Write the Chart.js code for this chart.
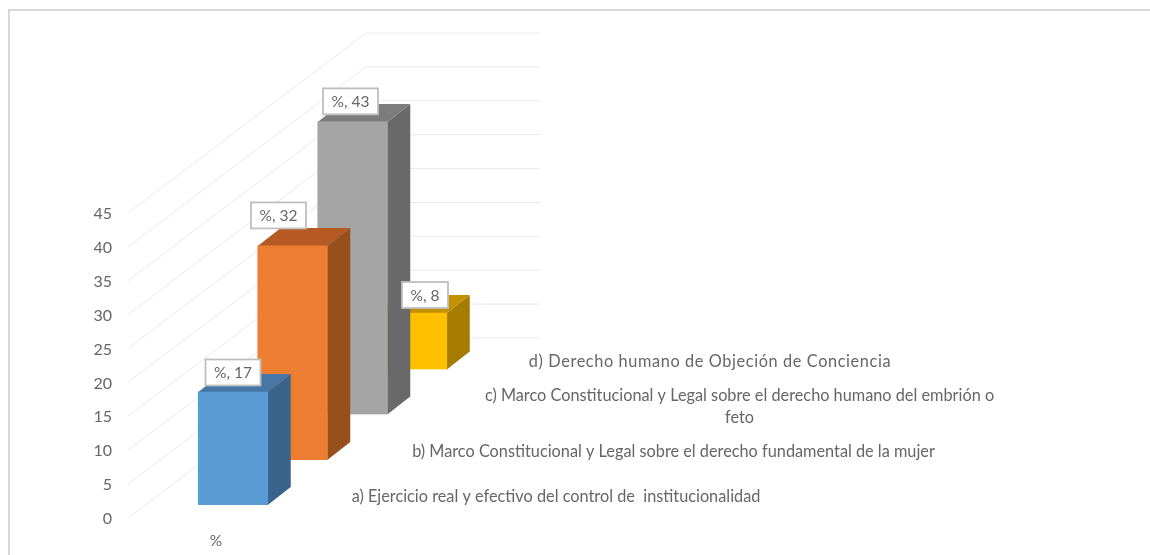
<!DOCTYPE html>
<html><head><meta charset="utf-8">
<style>html,body{margin:0;padding:0;background:#fff}canvas{display:block}</style>
<script src="https://cdn.jsdelivr.net/npm/chart.js@4/dist/chart.umd.min.js"></script>
</head><body><div style="width:1150px;height:555px"><canvas id="c" width="1150" height="555"></canvas></div>
<script>
const categories = [
  'a) Ejercicio real y efectivo del control de  institucionalidad',
  'b) Marco Constitucional y Legal sobre el derecho fundamental de la mujer',
  ['c) Marco Constitucional y Legal sobre el derecho humano del embrión o','feto'],
  'd) Derecho humano de Objeción de Conciencia'
];
const seriesName = '%';
const values = [17, 32, 43, 8];
const tickStep = 5;
const tickMax = 45;

const faceColors = ['#5B9BD5','#ED7D31','#A5A5A5','#FFC000'];
const topColors  = ['#4777A6','#B45A22','#7C7C7C','#C19100'];
const sideColors = ['#3A648B','#95501E','#696969','#A57C00'];

// Oblique projection of the 3D depth rows
const rowShiftX = [17, 76.5, 136.5, 196];
const rowShiftY = [-13, -58, -103.5, -148.5];
const rowScaleY = [0.981, 0.987, 1.004, 1.042];
const depthX = 23, depthY = -18;
const wallX = 238, wallY = -180, wallLen = 174;
const labelShift = [[0,-19.5],[-14,-30.5],[-2,-20.5],[13,-18]];
const categoryPos = [[556,497],[673.5,452],[739.5,396],[710,362]];
const categorySpacing = ['0px','0px','0px','0.62px'];
const FONT = 'Lato, "Open Sans", sans-serif';
const INK = '#666666';

function project(chart,i,x,y){
  const z = chart.scales.y.getPixelForValue(0);
  return [x+rowShiftX[i], z+(y-z)*rowScaleY[i]+rowShiftY[i]];
}
function poly(ctx,pts,fill){
  ctx.fillStyle=fill;ctx.beginPath();
  pts.forEach((p,k)=>k?ctx.lineTo(p[0],p[1]):ctx.moveTo(p[0],p[1]));
  ctx.closePath();ctx.fill();
}
const scene = {
  id:'scene',
  beforeDraw(chart){
    const {ctx,width,height}=chart;
    ctx.save();
    ctx.fillStyle='#fff';ctx.fillRect(0,0,width,height);
    ctx.fillStyle='#D9D9D9';
    ctx.fillRect(8,9,2,height-9);
    ctx.fillRect(8,9,width-8,2);
    ctx.restore();
  },
  beforeDatasetsDraw(chart){
    const {ctx,chartArea:a,scales:{y}}=chart;
    ctx.save();ctx.strokeStyle='#EAEAEA';ctx.lineWidth=1;
    y.ticks.forEach(t=>{
      const p=y.getPixelForValue(t.value);
      ctx.beginPath();ctx.moveTo(a.left,p);
      ctx.lineTo(a.left+wallX,p+wallY);
      ctx.lineTo(a.left+wallX+wallLen,p+wallY);
      ctx.stroke();
    });
    ctx.restore();
  },
  beforeDatasetDraw(chart,args){
    const i=args.index,ctx=chart.ctx,el=args.meta.data[0];
    const L=el.x-el.width/2,R=el.x+el.width/2;
    const tl=project(chart,i,L,el.y),tr=project(chart,i,R,el.y),br=project(chart,i,R,el.base);
    const off=p=>[p[0]+depthX,p[1]+depthY];
    poly(ctx,[tr,off(tr),off(br),br],sideColors[i]);
    poly(ctx,[tl,off(tl),off(tr),tr],topColors[i]);
    const z=chart.scales.y.getPixelForValue(0);
    ctx.save();
    ctx.translate(rowShiftX[i],rowShiftY[i]+z*(1-rowScaleY[i]));
    ctx.scale(1,rowScaleY[i]);
  },
  afterDatasetDraw(chart){chart.ctx.restore();},
  afterDatasetsDraw(chart){
    const ctx=chart.ctx;
    ctx.save();
    ctx.textBaseline='middle';ctx.textAlign='center';
    ctx.font='15.5px '+FONT;
    chart.data.datasets.forEach((ds,i)=>{
      const el=chart.getDatasetMeta(i).data[0];
      const p=project(chart,i,el.x,el.y);
      const cx=p[0]+labelShift[i][0],cy=p[1]+labelShift[i][1];
      const txt=seriesName+', '+ds.data[0];
      const w=Math.round(ctx.measureText(txt).width)+17,h=26;
      ctx.fillStyle='#fff';ctx.fillRect(cx-w/2,cy-h/2,w,h);
      ctx.strokeStyle='#BFBFBF';ctx.lineWidth=1.8;ctx.strokeRect(cx-w/2,cy-h/2,w,h);
      ctx.fillStyle=INK;ctx.fillText(txt,cx,cy+0.5);
    });
    ctx.font='16.3px '+FONT;
    categories.forEach((c,i)=>{
      const lines=Array.isArray(c)?c:[c];
      ctx.letterSpacing=categorySpacing[i];
      lines.forEach((s,k)=>ctx.fillText(s,categoryPos[i][0],categoryPos[i][1]+k*22));
    });
    ctx.restore();
  }
};
new Chart(document.getElementById('c'),{
  type:'bar',
  data:{labels:[seriesName],
    datasets:values.map((v,i)=>({label:Array.isArray(categories[i])?categories[i].join(' '):categories[i],data:[v],backgroundColor:faceColors[i],barThickness:69.5,grouped:false}))},
  options:{
    responsive:false,animation:false,
    layout:{padding:{left:0,top:213,right:846,bottom:0}},
    plugins:{legend:{display:false},tooltip:{enabled:false}},
    scales:{
      x:{grid:{display:false},border:{display:false},
         ticks:{color:INK,font:{family:FONT,size:15.5},padding:6,maxRotation:0},
         afterFit(s){s.height=37;}},
      y:{min:0,max:tickMax,grid:{display:false},border:{display:false},
         ticks:{stepSize:tickStep,color:INK,font:{family:FONT,size:16},padding:8,labelOffset:1},
         afterFit(s){s.width=128;}}
    }
  },
  plugins:[scene]
});
</script></body></html>
